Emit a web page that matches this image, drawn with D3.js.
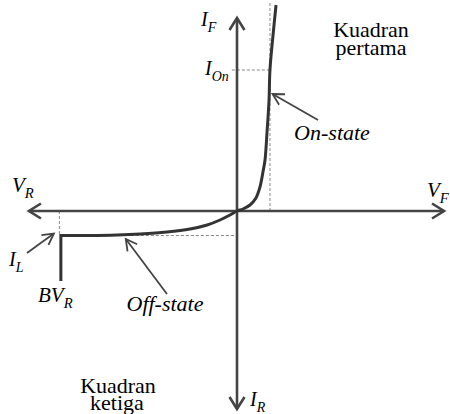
<!DOCTYPE html>
<html>
<head>
<meta charset="utf-8">
<script src="https://cdn.jsdelivr.net/npm/d3@7"></script>
</head>
<body style="margin:0">
<svg id="chart" width="450" height="414"></svg>
<script>
// Forward-bias branch (voltage, current), arbitrary units
const vForward = [0, 0.58, 1.26, 1.84, 2.23, 2.52, 2.72, 2.91, 3.11, 3.2, 3.5, 3.79];
const iForward = [0, 0.2, 0.6, 1.3, 2.4, 3.9, 5.1, 7.8, 11.1, 14.1, 17.6, 20.6];
// Reverse-bias branch down to breakdown
const vReverse = [0, -0.68, -1.65, -2.9, -4.56, -6.8, -9.4, -11.65, -14.3, -17.1];
const iReverse = [0, -0.4, -0.9, -1.4, -1.8, -2.1, -2.3, -2.4, -2.45, -2.45];
// Characteristic levels
const vOn = 3.2, iOn = 14.1;
const bvR = -17.1, iL = -2.45, iBreak = -7.0;
// Axis extents
const vMin = -20.2, vMax = 20.1, iMin = -19.8, iMax = 19.3;

const svg = d3.select("#chart");
const x = d3.scaleLinear().domain([-20, 20]).range([31, 443]);
const y = d3.scaleLinear().domain([-20, 20]).range([411, 11]);

// Labels first: quadrant names and curve regions, centred on their anchor point
function plain(cx, yp, str, size, italic) {
  const t = svg.append("text").attr("x", cx).attr("y", yp).attr("font-size", size)
    .attr("font-family", "Liberation Serif").attr("font-style", italic ? "italic" : "normal")
    .text(str);
  t.attr("x", cx - t.node().getComputedTextLength() / 2);
}
plain(371, 37, "Kuadran", 22);
plain(371, 55, "pertama", 22);
plain(332, 140, "On-state", 22, true);
plain(165, 311, "Off-state", 22, true);
plain(118, 393, "Kuadran", 22);
plain(117, 410, "ketiga", 22);

// Symbols with subscripts
function symbol(xp, yp, main, sub, size) {
  const t = svg.append("text").attr("x", xp).attr("y", yp).attr("font-size", size)
    .attr("font-family", "Liberation Serif").attr("font-style", "italic");
  t.append("tspan").text(main);
  t.append("tspan").attr("font-size", size * 0.7).attr("dy", size * 0.3).text(sub);
}
symbol(201, 26, "I", "F", 20);
symbol(205, 75, "I", "On", 20);
symbol(12, 192, "V", "R", 21);
symbol(427, 197, "V", "F", 21);
symbol(9, 266, "I", "L", 20);
symbol(38, 302, "BV", "R", 21);
symbol(250, 406, "I", "R", 20);

const axisColor = "#444", curveColor = "#333", dashColor = "#888";

// Open chevron arrowhead at (tx,ty) pointing away from (fx,fy)
function chevron(g, fx, fy, tx, ty, len, half, color, width) {
  const a = Math.atan2(ty - fy, tx - fx);
  const bx = tx - len * Math.cos(a), by = ty - len * Math.sin(a);
  const nx = -Math.sin(a) * half, ny = Math.cos(a) * half;
  g.append("path")
    .attr("d", `M${bx + nx},${by + ny}L${tx},${ty}L${bx - nx},${by - ny}`)
    .attr("fill", "none").attr("stroke", color).attr("stroke-width", width)
    .attr("stroke-linejoin", "miter").attr("stroke-linecap", "butt");
}
function arrow(g, fx, fy, tx, ty, len, half, color, width) {
  g.append("line").attr("x1", fx).attr("y1", fy).attr("x2", tx).attr("y2", ty)
    .attr("stroke", color).attr("stroke-width", width);
  chevron(g, fx, fy, tx, ty, len, half, color, width);
}

// Guide lines
const guides = svg.append("g").attr("stroke", dashColor).attr("stroke-width", 1)
  .attr("stroke-dasharray", "3,2").attr("fill", "none");
guides.append("line").attr("x1", x(vOn)).attr("x2", x(vOn)).attr("y1", y(20.8)).attr("y2", y(0));
guides.append("line").attr("x1", x(-0.5)).attr("x2", x(vOn)).attr("y1", y(iOn)).attr("y2", y(iOn));
guides.append("line").attr("x1", x(bvR)).attr("x2", x(0)).attr("y1", y(iL)).attr("y2", y(iL));
guides.append("line").attr("x1", x(bvR) - 1.5).attr("x2", x(bvR) - 1.5).attr("y1", y(0)).attr("y2", y(iL));

// Axes
const axes = svg.append("g");
arrow(axes, x(0), y(0), x(vMin), y(0), 12, 7.5, axisColor, 2.6);
arrow(axes, x(0), y(0), x(vMax), y(0), 12, 7.5, axisColor, 2.6);
arrow(axes, x(0), y(0), x(0), y(iMax), 12, 7.5, axisColor, 2.6);
arrow(axes, x(0), y(0), x(0), y(iMin), 12, 7.5, axisColor, 2.6);

// Characteristic curve
const pts = vForward.map((v, i) => [v, iForward[i]]).reverse()
  .concat(vReverse.slice(1).map((v, i) => [v, iReverse[i + 1]]));
const curve = d3.line().x(d => x(d[0])).y(d => y(d[1])).curve(d3.curveCatmullRom.alpha(0.5));
svg.append("path").attr("d", curve(pts))
  .attr("fill", "none").attr("stroke", curveColor).attr("stroke-width", 3);
svg.append("path")
  .attr("d", `M${x(bvR)},${y(iL) - 1.5}L${x(bvR)},${y(iBreak)}`)
  .attr("fill", "none").attr("stroke", curveColor).attr("stroke-width", 3);

// Pointer arrows
const ptr = svg.append("g");
arrow(ptr, 318, 120, x(3.45), y(11.7), 11, 6, "#444", 1.8);
arrow(ptr, 167, 294, x(-10.8), y(-2.8), 11, 6, "#444", 1.8);
arrow(ptr, 27, 253, x(bvR) - 7, y(iL) - 2, 11, 6, "#444", 1.8);
</script>
</body>
</html>
